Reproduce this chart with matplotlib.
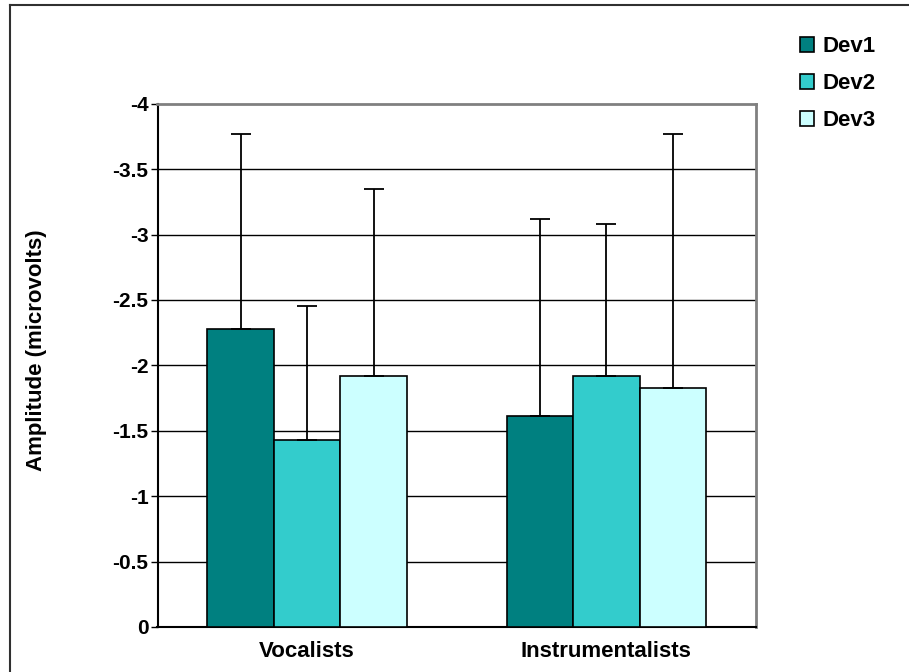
import matplotlib
matplotlib.use('Agg')
import matplotlib.pyplot as plt
import numpy as np
from matplotlib.patches import Patch
from matplotlib.lines import Line2D

plt.rcParams['font.family'] = ['Liberation Sans', 'DejaVu Sans']
plt.rcParams['font.weight'] = 'bold'

groups = ['Vocalists', 'Instrumentalists']
series = ['Dev1', 'Dev2', 'Dev3']
dev1 = [-2.28, -1.615]
dev2 = [-1.43, -1.92]
dev3 = [-1.92, -1.825]
err1 = [1.49, 1.505]
err2 = [1.02, 1.16]
err3 = [1.43, 1.945]
yticks = [0, -0.5, -1, -1.5, -2, -2.5, -3, -3.5, -4]
ytick_labels = ['0', '-0.5', '-1', '-1.5', '-2', '-2.5', '-3', '-3.5', '-4']

colors = ['#008080', '#33CCCC', '#CCFFFF']

fig = plt.figure(figsize=(9.09, 6.72), dpi=100)
ax = fig.add_axes([157.5/909, 1-627/672, (756-157.5)/909, (627-103.7)/672])

x = np.arange(len(groups))
w = 1/4.5
for i, (vals, errs) in enumerate(zip([dev1, dev2, dev3], [err1, err2, err3])):
    pos = x + (i-1)*w
    ax.bar(pos, vals, width=w, color=colors[i], edgecolor='black', linewidth=1.2, zorder=3)
    ax.errorbar(pos, vals, yerr=[errs, np.zeros(len(errs))], fmt='none',
                ecolor='black', elinewidth=1.3, capsize=7.5, capthick=1.3, zorder=4)

ax.set_xlim(-0.5, 1.5)
ax.set_ylim(0, -4)
ax.set_yticks(yticks)
ax.set_yticklabels(ytick_labels, fontsize=15, fontweight='bold')
ax.set_xticks(x)
ax.set_xticklabels(groups, fontsize=16, fontweight='bold')
ax.tick_params(axis='x', length=0, pad=10)
ax.tick_params(axis='y', length=5, width=1, pad=1.5, direction='out')

for v in yticks[1:-1]:
    ax.axhline(v, color='black', linewidth=1, zorder=1)

ax.spines['left'].set_color('black')
ax.spines['left'].set_linewidth(1.5)
ax.spines['bottom'].set_color('black')
ax.spines['bottom'].set_linewidth(1.5)
ax.spines['top'].set_color('#808080')
ax.spines['top'].set_linewidth(2)
ax.spines['right'].set_color('#808080')
ax.spines['right'].set_linewidth(2)

fig.text(37/909, 1-350/672, 'Amplitude (microvolts)', rotation=90,
         ha='center', va='center', fontsize=16, fontweight='bold')

handles = [Patch(facecolor=c, edgecolor='black', linewidth=1.2) for c in colors]
fig.legend(handles, series, loc='upper left', bbox_to_anchor=(800/909, 1-36/672),
           frameon=False, handlelength=0.65, handleheight=0.65,
           handletextpad=0.35, labelspacing=0.73, borderaxespad=0, borderpad=0,
           prop={'weight': 'bold', 'size': 16})

# outer chart border
fig.add_artist(Line2D([9.5/909, 9.5/909], [0, 1-5/672], color='#303030', linewidth=1.5))
fig.add_artist(Line2D([9.5/909, 1], [1-5/672, 1-5/672], color='#303030', linewidth=1.5))

fig.savefig('out.png', dpi=100, facecolor='white')
